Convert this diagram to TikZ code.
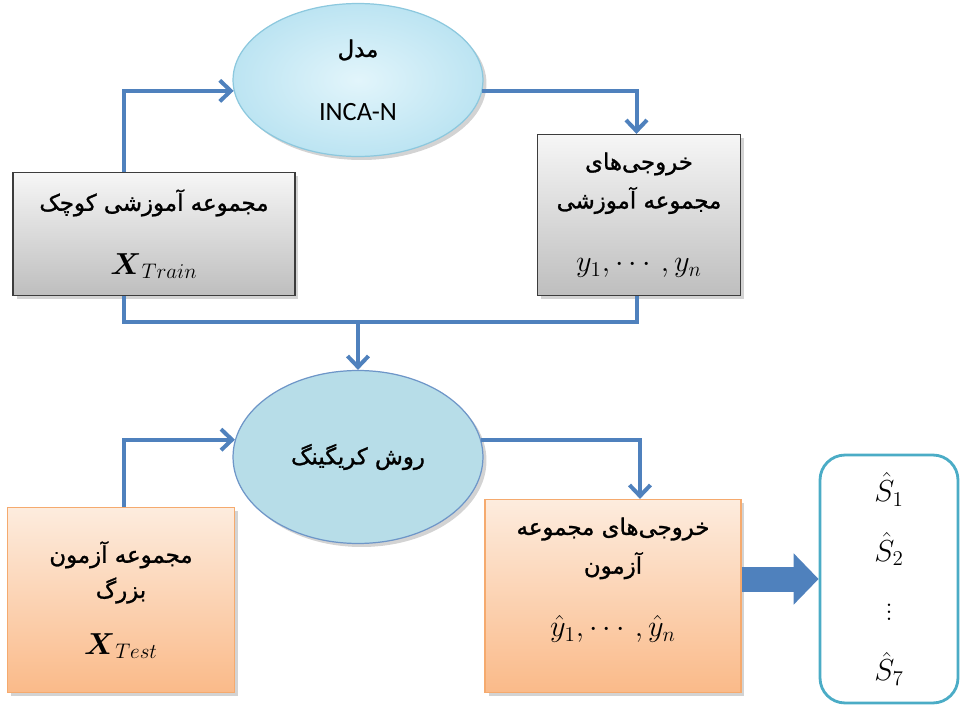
\documentclass[tikz,border=0pt]{standalone}
\usepackage{amsmath, amssymb}
\usepackage{fontspec}
\usepackage{tikz}
\usetikzlibrary{positioning, shapes.geometric, shadows, arrows.meta}
\TeXXeTstate=1
\newfontfamily\fafont[Script=Arabic, FakeBold=1.2]{DejaVu Sans}
\newfontfamily\calfont{Carlito}
\definecolor{linkblue}{RGB}{79, 129, 189}
\definecolor{graytop}{RGB}{246, 246, 246}
\definecolor{graybot}{RGB}{190, 190, 190}
\definecolor{grayedge}{RGB}{60, 60, 60}
\definecolor{orangetop}{RGB}{253, 236, 222}
\definecolor{orangebot}{RGB}{250, 186, 137}
\definecolor{orangeedge}{RGB}{245, 170, 110}
\definecolor{cyanin}{RGB}{226, 245, 251}
\definecolor{cyanout}{RGB}{188, 228, 242}
\definecolor{cyanedge}{RGB}{140, 200, 222}
\definecolor{kfill}{RGB}{183, 221, 232}
\definecolor{kedge}{RGB}{110, 150, 200}
\definecolor{teal}{RGB}{75, 172, 198}
\newcommand{\fa}[1]{{\fafont\beginR #1\endR}}

\begin{document}
\begin{tikzpicture}[x=0.02cm, y=-0.02cm,
  every node/.style={align=center, inner sep=0pt, font=\fontsize{13}{22}\selectfont},
  shade/.style={drop shadow={shadow xshift=2pt, shadow yshift=-2pt, opacity=0.35}},
  graybox/.style={rectangle, draw=grayedge, line width=0.7pt, top color=graytop, bottom color=graybot, shade},
  orangebox/.style={rectangle, draw=orangeedge, line width=0.7pt, top color=orangetop, bottom color=orangebot, shade},
  wire/.style={draw=linkblue, line width=0.08cm},
  link/.style={wire, -{Straight Barb[length=0.22cm, width=0.42cm]}},
  fat/.style={linkblue, line width=0.5cm, -{Triangle[length=0.5cm, width=1cm]}}]

  \useasboundingbox (0, 0) rectangle (961, 706);

  % training part
  \node[ellipse, minimum width=5cm, minimum height=3.06cm, inner color=cyanin, outer color=cyanout,
        draw=cyanedge, line width=0.7pt, shade] (inca) at (358, 80)
    {\fa{مدل}\\[14pt]{\calfont\fontsize{15}{18}\selectfont INCA-N}};
  \node[graybox, minimum width=5.64cm, minimum height=2.46cm] (train) at (154, 234)
    {\fa{مجموعه آموزشی کوچک}\\[14pt]{\fontsize{17}{20}\selectfont$\boldsymbol{X}_{Train}$}};
  \node[graybox, minimum width=4.06cm, minimum height=3.22cm] (trainout) at (639, 215)
    {\fa{خروجی^^^^200cهای}\\\fa{مجموعه آموزشی}\\[14pt]{\fontsize{17}{20}\selectfont$y_1, \cdots, y_n$}};

  % kriging part
  \node[ellipse, minimum width=5cm, minimum height=3.46cm, fill=kfill, draw=kedge, line width=0.7pt, shade] (krig) at (358, 457)
    {\fa{روش کریگینگ}};
  \node[orangebox, minimum width=4.54cm, minimum height=3.7cm] (test) at (121, 600)
    {\fa{مجموعه آزمون}\\[-2pt]\fa{بزرگ}\\[10pt]{\fontsize{17}{20}\selectfont$\boldsymbol{X}_{Test}$}};
  \node[orangebox, minimum width=5.12cm, minimum height=3.86cm, text depth=0.75cm] (testout) at (613, 596)
    {\fa{خروجی^^^^200cهای مجموعه}\\\fa{آزمون}\\[14pt]{\fontsize{17}{20}\selectfont$\hat{y}_1, \cdots, \hat{y}_n$}};
  \node[rectangle, rounded corners=0.5cm, draw=teal, line width=1.6pt, fill=white,
        minimum width=2.76cm, minimum height=4.96cm, font=\fontsize{17}{34}\selectfont] (res) at (889, 579)
    {$\hat{S}_1$\\$\hat{S}_2$\\$\vdots$\\$\hat{S}_7$};

  \coordinate (tx) at ([xshift=-0.6cm]train.north);
  \coordinate[above=0.96cm of krig.north] (join);

  \draw[link] (tx) |- (inca.185);
  \draw[link] (inca.-5) -| ([xshift=-0.05cm]trainout.north);
  \draw[wire] (train.south -| tx) |- (join) -| ([xshift=-0.05cm]trainout.south);
  \draw[link] (join) -- (krig.north);
  \draw[link] (test.north -| tx) |- (krig.172);
  \draw[link] (krig.8) -| ([xshift=0.54cm]testout.north);
  \draw[fat] (testout.east |- res.west) -- (res.west);

\end{tikzpicture}
\end{document}
